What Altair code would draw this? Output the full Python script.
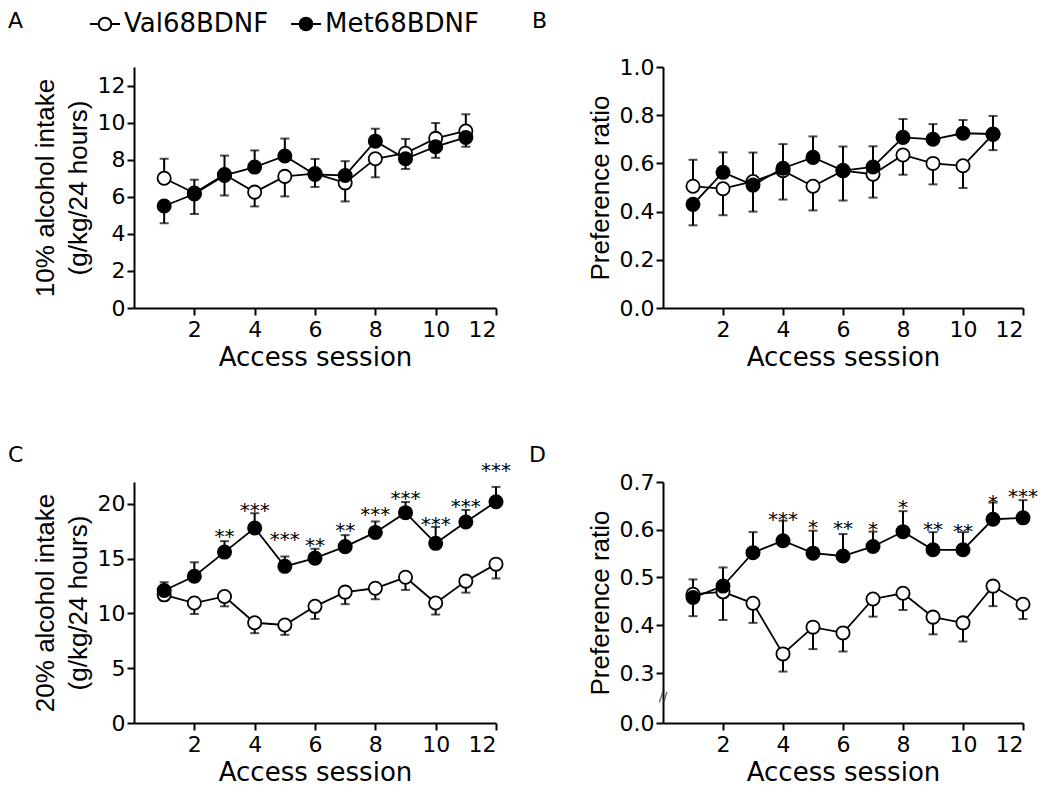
import altair as alt
import pandas as pd

GROUPS = ["Val68BDNF", "Met68BDNF"]
SESSIONS_AB = list(range(1, 12))
SESSIONS_CD = list(range(1, 13))
X_TICKS = [2, 4, 6, 8, 10, 12]

# Panel A: 10% alcohol intake (g/kg/24 h)
a_val_mean = [7.0, 6.2, 7.2, 6.25, 7.1, 7.25, 6.75, 8.05, 8.35, 9.15, 9.55]
a_val_up = [1.05, 0.72, 0, 0, 0, 0, 0, 0, 0.77, 0.83, 0.9]
a_val_down = [0, 0, 1.13, 0.77, 1.08, 0.72, 1.0, 1.0, 0, 0, 0]
a_met_mean = [5.5, 6.15, 7.15, 7.6, 8.2, 7.2, 7.15, 9.0, 8.05, 8.7, 9.2]
a_met_up = [0, 0, 1.07, 0.9, 0.94, 0.84, 0.77, 0.67, 0, 0, 0]
a_met_down = [0.93, 1.08, 0, 0, 0, 0, 0, 0, 0.55, 0.6, 0.5]

# Panel B: preference ratio (10%)
b_val_mean = [0.505, 0.495, 0.525, 0.57, 0.505, 0.57, 0.555, 0.635, 0.6, 0.59, 0.72]
b_val_up = [0.11, 0, 0.12, 0, 0, 0, 0, 0, 0, 0, 0]
b_val_down = [0, 0.11, 0, 0.12, 0.1, 0.124, 0.097, 0.082, 0.087, 0.092, 0.065]
b_met_mean = [0.43, 0.563, 0.51, 0.58, 0.625, 0.57, 0.585, 0.708, 0.7, 0.725, 0.722]
b_met_up = [0, 0.083, 0, 0.1, 0.087, 0.1, 0.086, 0.076, 0.063, 0.055, 0.075]
b_met_down = [0.087, 0, 0.11, 0, 0, 0, 0, 0, 0, 0, 0]

# Panel C: 20% alcohol intake (g/kg/24 h)
c_val_mean = [11.7, 10.95, 11.55, 9.15, 8.95, 10.65, 11.95, 12.3, 13.3, 10.95, 12.95, 14.5]
c_val_up = [0] * 12
c_val_down = [0.5, 1.0, 0.9, 0.95, 0.9, 1.15, 1.1, 1.0, 1.15, 1.05, 1.05, 1.3]
c_met_mean = [12.1, 13.4, 15.6, 17.8, 14.3, 15.05, 16.1, 17.4, 19.2, 16.4, 18.35, 20.2]
c_met_up = [0.75, 1.27, 1.0, 1.35, 0.9, 0.85, 1.05, 1.0, 0.97, 1.5, 1.1, 1.35]
c_met_down = [0] * 12
c_stars = ["", "", "**", "***", "***", "**", "**", "***", "***", "***", "***", "***"]
c_star_y = [0, 0, 17.4, 19.85, 17.2, 16.6, 18.0, 19.4, 20.9, 18.5, 20.2, 23.45]

# Panel D: preference ratio (20%)
d_val_mean = [0.465, 0.47, 0.446, 0.34, 0.396, 0.384, 0.455, 0.467, 0.417, 0.405, 0.482, 0.444]
d_val_up = [0] * 12
d_val_down = [0, 0.059, 0.041, 0.037, 0.046, 0.039, 0.037, 0.035, 0.036, 0.039, 0.042, 0.031]
d_met_mean = [0.458, 0.482, 0.552, 0.577, 0.551, 0.545, 0.565, 0.596, 0.558, 0.558, 0.622, 0.625]
d_met_up = [0.038, 0.039, 0.043, 0.042, 0.047, 0.046, 0.031, 0.043, 0.037, 0.037, 0.035, 0.037]
d_met_down = [0.039, 0, 0, 0, 0, 0, 0, 0, 0, 0, 0, 0]
d_stars = ["", "", "", "***", "*", "**", "*", "*", "**", "**", "*", "***"]
d_star_y = [0, 0, 0, 0.631, 0.615, 0.612, 0.61, 0.657, 0.61, 0.606, 0.666, 0.68]

FONT = "DejaVu Sans"
TFONT = "Liberation Sans"
H = 241

LEG_PATH = ("M-1,0L-0.42,0M0.42,0L1,0M-0.42,0A0.42,0.42,0,1,1,0.42,0"
            "A0.42,0.42,0,1,1,-0.42,0Z")
FILL_SCALE = alt.Scale(domain=GROUPS, range=["white", "black"])
LEGEND = alt.Legend(title=None, orient="none", legendX=-45, legendY=-59,
                    direction="horizontal", symbolType=LEG_PATH, symbolSize=900,
                    symbolStrokeColor="black", symbolStrokeWidth=2, symbolOpacity=1,
                    labelFont=FONT, labelFontSize=26, labelColor="black",
                    labelOffset=3, columnPadding=18, padding=0)


def build(sessions, vm, vu, vd, mm, mu, md):
    rows, caps = [], []
    for g, mean, up, dn in (("Val68BDNF", vm, vu, vd), ("Met68BDNF", mm, mu, md)):
        for s, m, u, d in zip(sessions, mean, up, dn):
            rows.append({"session": s, "group": g, "mean": m, "lo": m - d, "hi": m + u})
            if u > 0:
                caps.append({"session": s, "group": g, "cap": m + u})
            if d > 0:
                caps.append({"session": s, "group": g, "cap": m - d})
    return pd.DataFrame(rows), pd.DataFrame(caps)


def panel(sessions, series, yscale, yaxis, ytitle, letter, lx, ly, width,
          stars=None, star_y=None, broken=False):
    df, caps = build(sessions, *series)
    xs = alt.Scale(domain=[0, 12], nice=False, zero=False)
    xa = alt.Axis(values=X_TICKS, grid=False)

    def X(f):
        return alt.X(f"{f}:Q", scale=xs, axis=xa, title="Access session")

    def Y(f):
        return alt.Y(f"{f}:Q", scale=yscale, axis=yaxis, title=ytitle)

    base = alt.Chart(df)
    rules = base.mark_rule(color="black", strokeWidth=2).encode(x=X("session"), y=Y("lo"), y2="hi")
    capm = alt.Chart(caps).mark_tick(orient="horizontal", color="black", size=9, thickness=2).encode(
        x=X("session"), y=Y("cap"))
    lines = base.mark_line(color="black", strokeWidth=1.8).encode(
        x=X("session"), y=Y("mean"), detail="group:N")
    pts = base.mark_circle(size=175, stroke="black", strokeWidth=1.8, opacity=1).encode(
        x=X("session"), y=Y("mean"),
        fill=alt.Fill("group:N", scale=FILL_SCALE, legend=LEGEND))
    lab = alt.Chart(pd.DataFrame({"t": [letter]})).mark_text(
        align="left", baseline="top", font=FONT, fontSize=22, color="black").encode(
        x=alt.value(lx), y=alt.value(ly), text="t:N")
    layers = [rules, capm, lines, pts, lab]
    if stars is not None:
        sdf = pd.DataFrame({"session": sessions, "s": stars, "sy": star_y})
        sdf = sdf[sdf["s"] != ""]
        layers.append(alt.Chart(sdf).mark_text(font=FONT, fontSize=20, baseline="alphabetic",
                                               dy=11, color="black").encode(
            x=X("session"), y=Y("sy"), text="s:N"))
    if broken:
        layers.append(alt.Chart(pd.DataFrame({"t": ["//"]})).mark_text(
            font=FONT, fontSize=13, color="#444").encode(
            x=alt.value(0), y=alt.value(215), text="t:N"))
    return alt.layer(*layers).properties(width=width, height=H)


yA = alt.Scale(domain=[0, 13], nice=False, zero=True)
axA = alt.Axis(values=[0, 2, 4, 6, 8, 10, 12], grid=False)
yB = alt.Scale(domain=[0, 1], nice=False)
axB = alt.Axis(values=[0, 0.2, 0.4, 0.6, 0.8, 1.0], format=".1f", grid=False)
yC = alt.Scale(domain=[0, 22], nice=False)
axC = alt.Axis(values=[0, 5, 10, 15, 20], grid=False)
yD = alt.Scale(domain=[0, 0.3, 0.7], range=[H, 191, 0], nice=False, zero=False)
axD = alt.Axis(values=[0, 0.3, 0.4, 0.5, 0.6, 0.7], format=".1f", grid=False)

pA = panel(SESSIONS_AB, (a_val_mean, a_val_up, a_val_down, a_met_mean, a_met_up, a_met_down),
           yA, axA, ["10% alcohol intake", "(g/kg/24 hours)"], "A", -126, -56, 362)
pB = panel(SESSIONS_AB, (b_val_mean, b_val_up, b_val_down, b_met_mean, b_met_up, b_met_down),
           yB, axB, "Preference ratio", "B", -131, -56, 360)
pC = panel(SESSIONS_CD, (c_val_mean, c_val_up, c_val_down, c_met_mean, c_met_up, c_met_down),
           yC, axC, ["20% alcohol intake", "(g/kg/24 hours)"], "C", -126, -37, 362,
           stars=c_stars, star_y=c_star_y)
pD = panel(SESSIONS_CD, (d_val_mean, d_val_up, d_val_down, d_met_mean, d_met_up, d_met_down),
           yD, axD, "Preference ratio", "D", -134, -37, 360,
           stars=d_stars, star_y=d_star_y, broken=True)

chart = alt.concat(pA, pB, pC, pD, columns=2, spacing={"row": 174, "column": 167},
                   bounds="flush").properties(
    padding={"left": 0, "top": 0, "right": 0, "bottom": 0}
).configure_view(stroke=None).configure_axis(
    domainColor="black", domainWidth=2, tickColor="black", tickWidth=2, tickSize=7,
    labelFont=FONT, labelFontSize=22, labelColor="black", titleColor="black",
    titleFontWeight="normal", grid=False
).configure_axisX(
    titleFont=FONT, titleFontSize=26, labelPadding=4, titlePadding=4
).configure_axisY(
    titleFont=TFONT, titleFontSize=26, labelPadding=2, titlePadding=6, titleLineHeight=33
)

chart.save("out.html", embed_options={"renderer": "svg", "actions": False})
